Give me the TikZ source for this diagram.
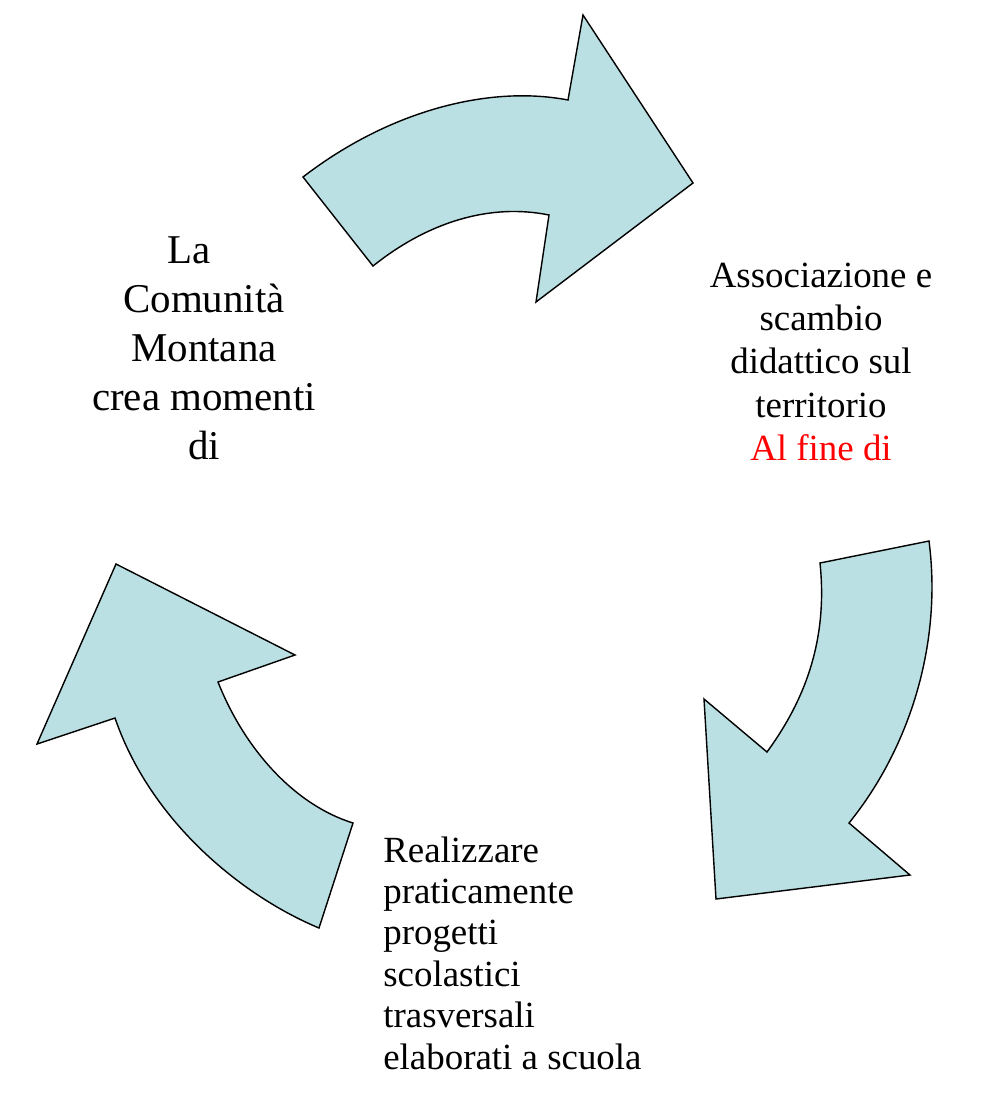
\documentclass[tikz,border=0pt]{standalone}
\usepackage{fontspec}
\setmainfont{Liberation Serif}
\definecolor{arrowfill}{RGB}{186,224,227}

\begin{document}
\begin{tikzpicture}[x=0.02cm,y=-0.02cm,bigarrow/.style={fill=arrowfill,draw=black,line width=0.8pt,line join=miter},lbl/.style={anchor=base,inner sep=0pt}]
     \useasboundingbox (0,0) rectangle (1006,1100);

     \draw[bigarrow] (303,177) .. controls (390,110) and (490,85) .. (568,100)
        -- (583,15) -- (693,183) -- (536,302) -- (549,215)
        .. controls (490,203) and (428,222) .. (373,266) -- cycle;
     \draw[bigarrow] (820,563) -- (929,541) .. controls (942,640) and (912,745) .. (849,823)
        -- (910,875) -- (716,899) -- (704,699) -- (767,752)
        .. controls (805,700) and (828,640) .. (820,563) -- cycle;
     \draw[bigarrow] (353,823) -- (319,928) .. controls (240,895) and (150,820) .. (115,718)
        -- (37,744) -- (116,564) -- (295,655) -- (218,682)
        .. controls (245,750) and (295,805) .. (353,823) -- cycle;

     \node[lbl,font=\fontsize{23.3}{27.9}\selectfont] (comunita) at (204,263)
        {\begin{tabular}[t]{@{}c@{}}La\hspace*{0.75em}\\Comunità\\Montana\\crea momenti\\di\end{tabular}};
     \node[lbl,font=\fontsize{21}{24.7}\selectfont] (associazione) at (821,287)
        {\begin{tabular}[t]{@{}c@{}}Associazione e\\scambio\\didattico sul\\territorio\\\textcolor{red}{Al fine di}\end{tabular}};
     \node[lbl,font=\fontsize{21}{23.6}\selectfont,anchor=base west] (progetti) at (383,862)
        {\begin{tabular}[t]{@{}l@{}}Realizzare\\praticamente\\progetti\\scolastici\\trasversali\\elaborati a scuola\end{tabular}};
    \end{tikzpicture}
\end{document}
